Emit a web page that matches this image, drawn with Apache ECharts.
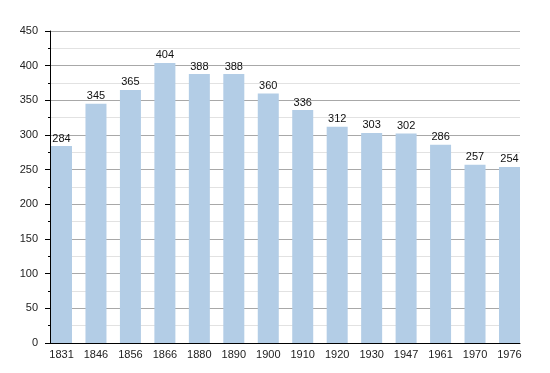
<!DOCTYPE html>
<html><head><meta charset="utf-8">
<script src="https://cdn.jsdelivr.net/npm/echarts@6/dist/echarts.min.js"></script>
<style>html,body{margin:0;padding:0;background:#fff}#c{width:550px;height:373px}</style>
</head><body><div id="c"></div>
<script>
const years = ['1831','1846','1856','1866','1880','1890','1900','1910','1920','1930','1947','1961','1970','1976'];
const population = [284,345,365,404,388,388,360,336,312,303,302,286,257,254];
const yTicks = [0,50,100,150,200,250,300,350,400,450];

const chart = echarts.init(document.getElementById('c'), null, {renderer:'canvas'});
const font = '"Liberation Sans", Arial, sans-serif';
chart.setOption({
  animation:false,
  grid:{left:50, top:31, width:470, height:312, containLabel:false},
  xAxis:{
    type:'value', min:-0.334, max:13.305,
    axisLine:{show:true, onZero:false, lineStyle:{color:'#000', width:1}},
    axisTick:{show:false},
    splitLine:{show:false},
    axisLabel:{customValues: years.map((_, i) => i), formatter: v => years[Math.round(v)] || '',
      color:'#222', fontSize:11, fontFamily:font, margin:6}
  },
  yAxis:{
    type:'value', min:0, max:450, interval:50,
    axisLine:{show:true, onZero:false, lineStyle:{color:'#000'}},
    axisTick:{show:true, length:5, lineStyle:{color:'#000'}},
    minorTick:{show:true, splitNumber:2, length:2, lineStyle:{color:'#000'}},
    splitLine:{show:true, lineStyle:{color:'#a8a8a8', width:1}},
    minorSplitLine:{show:true, lineStyle:{color:'#e2e2e2', width:1}},
    axisLabel:{color:'#222', fontSize:11, fontFamily:font, margin:12,
      formatter: v => yTicks.includes(v) ? String(v) : ''}
  },
  series:[{
    type:'bar', barWidth:21,
    data: population.map((v, i) => [i, v]),
    itemStyle:{color:'#b3cde6'},
    label:{show:true, position:'top', distance:2, color:'#111', fontSize:11, fontFamily:font,
      formatter: p => String(p.value[1])}
  }]
});
</script></body></html>
